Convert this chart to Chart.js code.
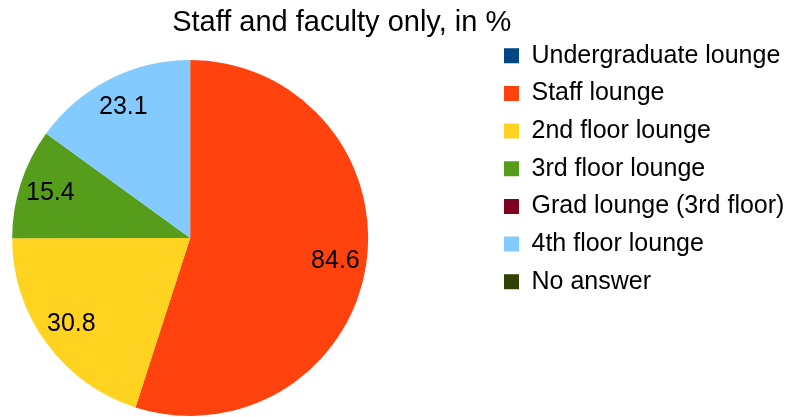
<!DOCTYPE html>
<html>
<head>
<meta charset="utf-8">
<script src="https://cdn.jsdelivr.net/npm/chart.js@4.4.0/dist/chart.umd.min.js"></script>
<style>
  html, body { margin: 0; padding: 0; background: #ffffff; overflow: hidden; }
  body { width: 796px; height: 417px; position: relative; }
  /* canvas is wider than the page and shifted left so the pie sits near the left edge */
  #wrap { position: absolute; left: -111px; top: 0; width: 907px; height: 417px; }
</style>
</head>
<body>
<div id="wrap"><canvas id="pieChart"></canvas></div>
<script>
// data
const chartTitle = 'Staff and faculty only, in %';
const categories = [
    'Undergraduate lounge',
    'Staff lounge',
    '2nd floor lounge',
    '3rd floor lounge',
    'Grad lounge (3rd floor)',
    '4th floor lounge',
    'No answer'
];
const percentValues = [0, 84.6, 30.8, 15.4, 0, 23.1, 0];
const sliceColors = ['#004586', '#ff420e', '#ffd320', '#579d1c', '#7e0021', '#83caff', '#314004'];

Chart.defaults.font.family = '"Liberation Sans", Arial, sans-serif';
Chart.defaults.color = '#000000';

// value labels inside the slices
const sliceLabels = {
    id: 'sliceLabels',
    afterDatasetsDraw(chart) {
        const ctx = chart.ctx;
        const meta = chart.getDatasetMeta(0);
        ctx.save();
        ctx.font = '25px "Liberation Sans", Arial, sans-serif';
        ctx.fillStyle = '#000000';
        ctx.textAlign = 'center';
        ctx.textBaseline = 'middle';
        meta.data.forEach((arc, i) => {
            const v = chart.data.datasets[0].data[i];
            if (!v) return;
            const p = arc.getProps(['x', 'y', 'startAngle', 'endAngle', 'outerRadius'], true);
            const mid = (p.startAngle + p.endAngle) / 2;
            const r = p.outerRadius * 0.826;
            ctx.fillText(v.toFixed(1), p.x + Math.cos(mid) * r, p.y + Math.sin(mid) * r);
        });
        ctx.restore();
    }
};

const ctx = document.getElementById('pieChart').getContext('2d');
const pieChart = new Chart(ctx, {
    type: 'pie',
    data: {
        labels: categories,
        datasets: [{
            data: percentValues,
            backgroundColor: sliceColors,
            borderWidth: 0
        }]
    },
    options: {
        responsive: true,
        maintainAspectRatio: false,
        animation: false,
        layout: {
            padding: { left: 0, right: 1.6, top: 0, bottom: 1 }
        },
        plugins: {
            title: {
                display: true,
                text: chartTitle,
                color: '#000000',
                font: { size: 29, weight: 'normal', lineHeight: 1.2 },
                padding: { top: 5.85, bottom: 19.35 }
            },
            legend: {
                position: 'right',
                align: 'start',
                title: {
                    display: true,
                    text: '',
                    font: { size: 10, lineHeight: 1.2 },
                    padding: { top: 18.65, bottom: 0 }
                },
                labels: {
                    color: '#000000',
                    font: { size: 25 },
                    boxWidth: 15,
                    boxHeight: 15,
                    padding: 12.65
                }
            },
            tooltip: { enabled: false }
        }
    },
    plugins: [sliceLabels]
});
</script>
</body>
</html>
